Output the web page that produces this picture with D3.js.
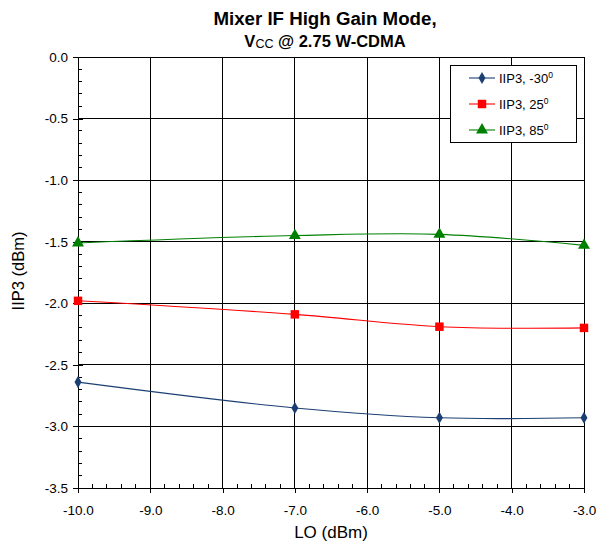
<!DOCTYPE html>
<html><head><meta charset="utf-8">
<script src="https://cdn.jsdelivr.net/npm/d3@7"></script>
<style>body{margin:0;background:#fff}svg{display:block;font-family:"Liberation Sans",Arial,sans-serif}</style>
</head><body><svg id="c" width="606" height="544"></svg>
<script>
const loValues = [-10, -7, -5, -3];
const seriesNames = ["IIP3, -30", "IIP3, 25", "IIP3, 85"];
const iip3Cold = [-2.64, -2.85, -2.93, -2.93];
const iip3Room = [-1.98, -2.09, -2.19, -2.20];
const iip3Hot  = [-1.51, -1.45, -1.44, -1.53];
const xTicks = [-10, -9, -8, -7, -6, -5, -4, -3];
const yTicks = [0, -0.5, -1, -1.5, -2, -2.5, -3, -3.5];

const svg = d3.select("#c");
const L = 78, R = 584, T = 57, B = 488;
const x = d3.scaleLinear().domain([-10, -3]).range([L, R]);
const y = d3.scaleLinear().domain([-3.5, 0]).range([B, T]);
const fmt = d => d3.format(".1f")(d).replace("\u2212", "-");

// gridlines
svg.append("g").selectAll("line").data(yTicks).join("line")
  .attr("x1", L).attr("x2", R).attr("y1", d => y(d)).attr("y2", d => y(d))
  .attr("stroke", "#000").attr("stroke-width", 1).attr("shape-rendering", "crispEdges");
svg.append("g").selectAll("line").data(xTicks).join("line")
  .attr("y1", T).attr("y2", B).attr("x1", d => x(d)).attr("x2", d => x(d))
  .attr("stroke", "#000").attr("stroke-width", 1).attr("shape-rendering", "crispEdges");

// minor ticks (inside)
const yMinor = d3.range(0, 36).map(i => -i * 0.1).filter(v => Math.abs(Math.round(v * 2) - v * 2) > 1e-6);
svg.append("g").selectAll("line").data(yMinor).join("line")
  .attr("x1", L).attr("x2", L + 4).attr("y1", d => y(d)).attr("y2", d => y(d))
  .attr("stroke", "#000").attr("shape-rendering", "crispEdges");
const xMinor = d3.range(0, 36).map(i => -10 + i * 0.2).filter(v => Math.abs(Math.round(v) - v) > 1e-6);
svg.append("g").selectAll("line").data(xMinor).join("line")
  .attr("y1", B).attr("y2", B - 4).attr("x1", d => x(d)).attr("x2", d => x(d))
  .attr("stroke", "#000").attr("shape-rendering", "crispEdges");

// axes
const yAxis = d3.axisLeft(y).tickValues(yTicks).tickFormat(fmt).tickSize(5).tickPadding(5);
const gy = svg.append("g").attr("transform", `translate(${L},0)`).call(yAxis);
const xAxis = d3.axisBottom(x).tickValues(xTicks).tickFormat(fmt).tickSize(5).tickPadding(12);
const gx = svg.append("g").attr("transform", `translate(0,${B})`).call(xAxis);
[gx, gy].forEach(g => {
  g.select(".domain").attr("stroke", "#000").attr("shape-rendering", "crispEdges");
  g.selectAll(".tick line").attr("stroke", "#000").attr("shape-rendering", "crispEdges");
  g.selectAll(".tick text").attr("fill", "#000").style("font-size", "13.5px").style("font-family", "Liberation Sans, Arial, sans-serif");
});
gy.selectAll(".tick line").attr("x2", 5).attr("x1", -5);
gx.selectAll(".tick line").attr("y1", 0).attr("y2", 5);
gy.select(".domain").attr("d", `M0,${T}V${B}`);
gx.select(".domain").attr("d", `M${L},0H${R}`);

// series
const colors = ["#1c3f73", "#ff0000", "#008000"];
const lineCol = ["#1c3f73", "#ff0000", "#008000"];
const allData = [iip3Cold, iip3Room, iip3Hot];
const line = d3.line().x(d => x(d[0])).y(d => y(d[1])).curve(d3.curveCatmullRom.alpha(0.5));
allData.forEach((vals, i) => {
  const pts = loValues.map((v, j) => [v, vals[j]]);
  svg.append("path").attr("d", line(pts)).attr("fill", "none").attr("stroke", lineCol[i]).attr("stroke-width", 1.1);
});
const sym = [d3.symbolDiamond, d3.symbolSquare, d3.symbolTriangle];
const symSize = [42, 72, 62];
allData.forEach((vals, i) => {
  svg.append("g").selectAll("path").data(loValues.map((v, j) => [v, vals[j]])).join("path")
    .attr("transform", d => `translate(${x(d[0])},${y(d[1])})`)
    .attr("d", d3.symbol().type(sym[i]).size(symSize[i]))
    .attr("fill", colors[i]);
});

// legend
const lg = svg.append("g");
lg.append("rect").attr("x", 450.5).attr("y", 65.5).attr("width", 126).attr("height", 77)
  .attr("fill", "#fff").attr("stroke", "#000").attr("stroke-width", 1);
const rowY = [78, 104, 130];
seriesNames.forEach((n, i) => {
  lg.append("line").attr("x1", 469).attr("x2", 495).attr("y1", rowY[i]).attr("y2", rowY[i])
    .attr("stroke", lineCol[i]).attr("stroke-width", 1.1);
  lg.append("path").attr("transform", `translate(482,${rowY[i]})`)
    .attr("d", d3.symbol().type(sym[i]).size(symSize[i])).attr("fill", colors[i]);
  const t = lg.append("text").attr("x", 499).attr("y", rowY[i] + 4.5).style("font-size", "13px").attr("fill", "#000");
  t.append("tspan").text(n);
  t.append("tspan").attr("dy", -5).style("font-size", "8.5px").text("0");
});

// titles
svg.append("text").attr("x", 325).attr("y", 25).attr("text-anchor", "middle")
  .style("font-size", "18.7px").style("font-weight", "bold").text("Mixer IF High Gain Mode,");
const t2 = svg.append("text").attr("x", 325).attr("y", 47).attr("text-anchor", "middle")
  .style("font-size", "16.5px").style("font-weight", "bold");
t2.append("tspan").text("V");
t2.append("tspan").style("font-size", "12.5px").style("font-weight", "normal").attr("dy", 1).text("CC");
t2.append("tspan").attr("dy", -1).text(" @ 2.75 W-CDMA");

svg.append("text").attr("x", 331).attr("y", 538).attr("text-anchor", "middle")
  .style("font-size", "17px").text("LO (dBm)");
svg.append("text").attr("transform", "translate(24,271) rotate(-90)").attr("text-anchor", "middle")
  .style("font-size", "16.5px").text("IIP3 (dBm)");
</script></body></html>
